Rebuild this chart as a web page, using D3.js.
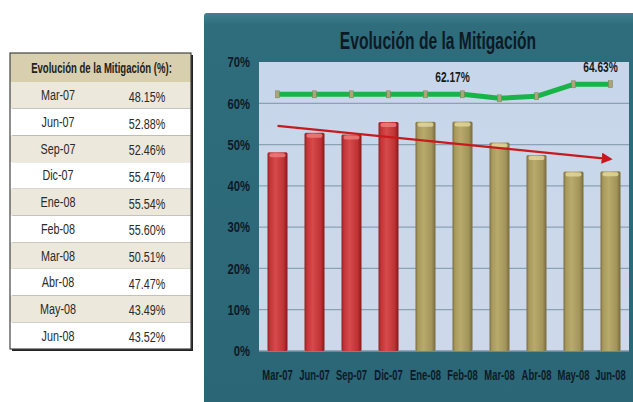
<!DOCTYPE html>
<html><head><meta charset="utf-8">
<script src="https://cdn.jsdelivr.net/npm/d3@7"></script>
<style>
body{margin:0;background:#fff;}
text{font-family:Arial,"Liberation Sans",sans-serif;}
</style></head>
<body><svg id="c" width="633" height="402"></svg>
<script>
const categories = ["Mar-07","Jun-07","Sep-07","Dic-07","Ene-08","Feb-08","Mar-08","Abr-08","May-08","Jun-08"];
const mitigation = [48.15,52.88,52.46,55.47,55.54,55.60,50.51,47.47,43.49,43.52];
const tableLabels = ["48.15%","52.88%","52.46%","55.47%","55.54%","55.60%","50.51%","47.47%","43.49%","43.52%"];
const greenSeries = [62.17,62.17,62.17,62.17,62.17,62.17,61.2,61.7,64.6,64.63];
const greenLabelIdx = [5,9];
const greenLabels = ["62.17%","64.63%"];
const barGroup = ["a","a","a","a","b","b","b","b","b","b"];
const yTicks = [0,10,20,30,40,50,60,70];
const title = "Evolución de la Mitigación";
const tableTitle = "Evolución de la Mitigación (%):";

const svg = d3.select("#c");
function ctext(parent, X, Y, f){
  return parent.append("text").attr("transform",`translate(${X},${Y}) scale(${f},1)`).attr("x",0).attr("y",0);
}
const defs = svg.append("defs");
function hgrad(id, stops){
  const g = defs.append("linearGradient").attr("id",id).attr("x1","0").attr("x2","1").attr("y1","0").attr("y2","0");
  stops.forEach(s=>g.append("stop").attr("offset",s[0]).attr("stop-color",s[1]));
}
hgrad("gRed",[[0,"#8f2022"],[0.12,"#c23436"],[0.4,"#d64a4b"],[0.8,"#bf3335"],[1,"#86191b"]]);
hgrad("gOl",[[0,"#7a6c3e"],[0.12,"#a8995c"],[0.4,"#b7aa6b"],[0.8,"#a3955a"],[1,"#776a3b"]]);
const vg = defs.append("linearGradient").attr("id","gPanel").attr("x1","0").attr("x2","0").attr("y1","0").attr("y2","1");
vg.append("stop").attr("offset",0).attr("stop-color","#3f8190");
vg.append("stop").attr("offset",0.03).attr("stop-color","#2f6d7c");
vg.append("stop").attr("offset",1).attr("stop-color","#2b6676");
const pg = defs.append("linearGradient").attr("id","gPlot").attr("x1","0").attr("x2","0").attr("y1","0").attr("y2","1");
pg.append("stop").attr("offset",0).attr("stop-color","#c7d6ea");
pg.append("stop").attr("offset",1).attr("stop-color","#cdd9ea");
defs.append("marker").attr("id","arr").attr("viewBox","0 0 10 10").attr("refX",8).attr("refY",5)
  .attr("markerWidth",5).attr("markerHeight",5).attr("orient","auto")
  .append("path").attr("d","M0,0 L10,5 L0,10 Z").attr("fill","#c81a1c");

// ---------- table ----------
const tx0 = 10, tx1 = 191, ty0 = 53, hdrH = 29, rowH = 26.7;
svg.append("rect").attr("x",tx0+2).attr("y",ty0+2).attr("width",tx1-tx0).attr("height",hdrH+rowH*10).attr("fill","#222");
svg.append("rect").attr("x",tx0).attr("y",ty0).attr("width",tx1-tx0).attr("height",hdrH).attr("fill","#d8cfae");
ctext(svg,(tx0+tx1)/2+1, ty0+hdrH/2+5, 0.66).attr("text-anchor","middle")
  .attr("font-size",14.5).attr("font-weight","bold").attr("fill","#222").text(tableTitle);
const rowY = d3.scaleBand().domain(categories).range([ty0+hdrH, ty0+hdrH+rowH*10]);
const tg = svg.append("g");
categories.forEach((c,i)=>{
  tg.append("rect").attr("x",tx0).attr("y",rowY(c)).attr("width",tx1-tx0).attr("height",rowY.bandwidth())
    .attr("fill", i%2===0 ? "#ece8dc" : "#ffffff");
  ctext(tg,58,rowY(c)+rowY.bandwidth()/2+5,0.72).attr("text-anchor","middle")
    .attr("font-size",15).attr("fill","#2a2a2a").text(c);
  ctext(tg,147,rowY(c)+rowY.bandwidth()/2+6.5,0.72).attr("text-anchor","middle")
    .attr("font-size",15).attr("fill","#2a2a2a").text(tableLabels[i]);
});
svg.append("rect").attr("x",tx0).attr("y",ty0).attr("width",tx1-tx0).attr("height",hdrH+rowH*10)
  .attr("fill","none").attr("stroke","#444").attr("stroke-width",1.2);

// ---------- chart panel ----------
svg.append("rect").attr("x",204).attr("y",13).attr("width",440).attr("height",400).attr("rx",3).attr("fill","url(#gPanel)");
ctext(svg,438,49,0.68).attr("text-anchor","middle").attr("font-size",23)
  .attr("font-weight","bold").attr("fill","#0d1a26").text(title);

const x = d3.scaleBand().domain(categories).range([259,629]).paddingInner(0.46).paddingOuter(0.23);
const y = d3.scaleLinear().domain([0,70]).range([351,62]);

svg.append("rect").attr("x",259).attr("y",y(70)).attr("width",370).attr("height",y(0)-y(70)).attr("fill","url(#gPlot)");
svg.append("g").selectAll("line").data(yTicks.filter(t=>t>0&&t<70)).join("line")
  .attr("x1",259).attr("x2",629).attr("y1",d=>y(d)).attr("y2",d=>y(d)).attr("stroke","#8da1b5").attr("stroke-width",1.2);
svg.append("line").attr("x1",259).attr("x2",629).attr("y1",y(0)).attr("y2",y(0)).attr("stroke","#7f93a6").attr("stroke-width",1.5);

// y axis
const yAxis = d3.axisLeft(y).tickValues(yTicks).tickFormat(d=>d+"%").tickSize(0).tickPadding(9);
const ya = svg.append("g").attr("transform","translate(259,0)").call(yAxis);
ya.select(".domain").remove();
ya.selectAll("text").attr("font-size",15).attr("font-weight","bold").attr("fill","#0d1a26")
  .style("font-family","Arial,'Liberation Sans',sans-serif")
  .attr("transform","scale(0.75,1)").attr("x",-9/0.75);

// x axis
const xAxis = d3.axisBottom(x).tickSize(0).tickPadding(19);
const xa = svg.append("g").attr("transform",`translate(0,${y(0)})`).call(xAxis);
xa.select(".domain").remove();
xa.selectAll("text").attr("font-size",14.5).attr("font-weight","bold").attr("fill","#0d1a26")
  .style("font-family","Arial,'Liberation Sans',sans-serif").attr("transform","scale(0.65,1)");

// bars
const bars = svg.append("g").selectAll("g").data(categories).join("g");
bars.append("rect").attr("x",d=>x(d)).attr("y",(d,i)=>y(mitigation[i])).attr("width",x.bandwidth())
  .attr("height",(d,i)=>y(0)-y(mitigation[i])).attr("rx",1.5)
  .attr("fill",(d,i)=>barGroup[i]==="a"?"url(#gRed)":"url(#gOl)");
bars.append("rect").attr("x",d=>x(d)+2).attr("y",(d,i)=>y(mitigation[i])+1).attr("width",x.bandwidth()-4)
  .attr("height",4).attr("rx",2)
  .attr("fill",(d,i)=>barGroup[i]==="a"?"#ee7f80":"#e4d99c").attr("opacity",0.8);

// trend line (least squares on bar values)
const n = mitigation.length, xm = (n-1)/2, ym = d3.mean(mitigation);
const slope = d3.sum(mitigation,(v,i)=>(i-xm)*(v-ym))/d3.sum(mitigation,(v,i)=>(i-xm)*(i-xm));
const tStart = ym - slope*xm, tEnd = ym + slope*xm;
svg.append("line").attr("x1",x(categories[0])+x.bandwidth()/2).attr("y1",y(tStart))
  .attr("x2",x(categories[n-1])+x.bandwidth()/2).attr("y2",y(tEnd))
  .attr("stroke","#c81a1c").attr("stroke-width",2.2).attr("marker-end","url(#arr)");

// green line
const cx = d=>x(d)+x.bandwidth()/2;
const line = d3.line().x((v,i)=>cx(categories[i])).y(v=>y(v));
svg.append("path").datum(greenSeries).attr("d",line).attr("fill","none").attr("stroke","#19b447").attr("stroke-width",5).attr("stroke-linejoin","round");
svg.append("g").selectAll("rect").data(greenSeries).join("rect")
  .attr("x",(v,i)=>cx(categories[i])-2).attr("y",v=>y(v)-3.5).attr("width",4).attr("height",7)
  .attr("fill","#a9a679").attr("stroke","#7f7d55").attr("stroke-width",0.5);
const gl = svg.append("g");
greenLabelIdx.forEach((idx,k)=>{
  ctext(gl, cx(categories[idx])-10, y(greenSeries[idx])-12, 0.68).attr("text-anchor","middle")
    .attr("font-size",15).attr("font-weight","bold").attr("fill","#1a1a1a").text(greenLabels[k]);
});
</script></body></html>
